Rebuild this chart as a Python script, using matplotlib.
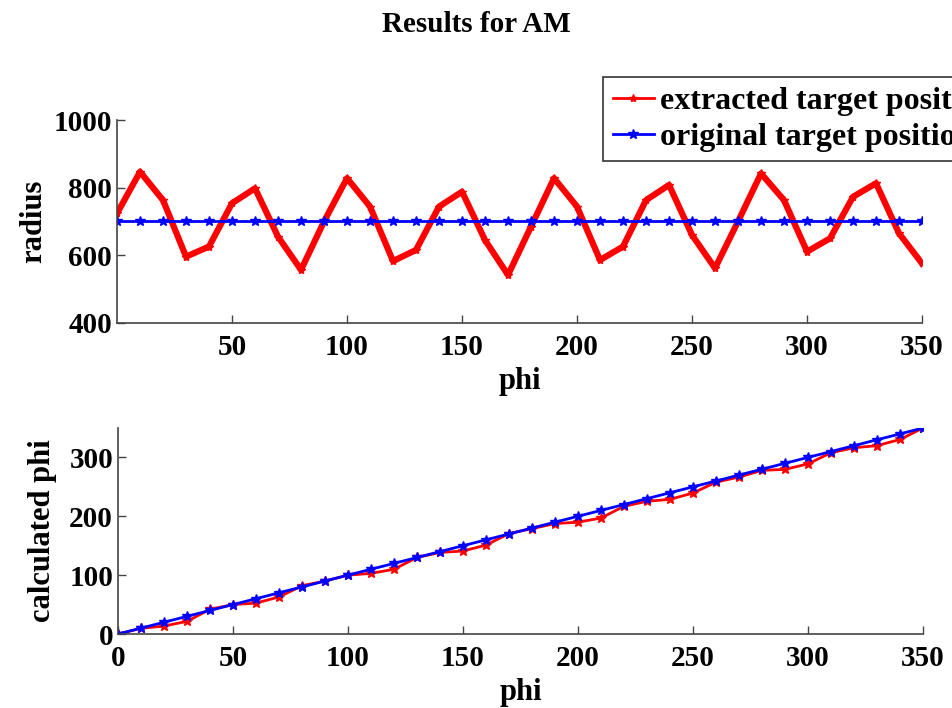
import matplotlib
matplotlib.use("Agg")
import matplotlib.pyplot as plt
import numpy as np

# angle samples (degrees)
phi = np.arange(0, 360, 10)

# extracted radius per angle
radius_extracted = [724, 847, 763, 596, 626, 754, 798, 655, 557, 700,
                    828, 744, 583, 616, 744, 788, 645, 542, 685, 828,
                    744, 586, 626, 763, 808, 660, 562, 700, 842, 763,
                    611, 650, 773, 813, 665, 576]
radius_original = [700] * len(phi)

# calculated phi per angle
phi_calculated = [0, 9.6, 13.5, 21.5, 42, 50, 52.5, 63, 82, 90,
                  100, 103, 110, 130, 138.5, 141, 151, 170.6, 179, 187.6,
                  190, 197, 217, 225.4, 228.8, 239.5, 258, 266.6, 278, 279.7,
                  289, 308, 316.4, 320, 330.5, 350]
phi_original = list(phi)

plt.rcParams["font.family"] = ["Liberation Serif", "DejaVu Serif"]
plt.rcParams["font.weight"] = "bold"
plt.rcParams["axes.labelweight"] = "bold"

fig = plt.figure(figsize=(9.53, 7.08), dpi=100)
fig.suptitle("Results for AM", y=0.985, fontsize=21, fontweight="bold")


def style_axes(ax):
    for side in ("top", "right"):
        ax.spines[side].set_visible(False)
    for side in ("left", "bottom"):
        ax.spines[side].set_color("#444444")
        ax.spines[side].set_linewidth(1.2)
    ax.tick_params(direction="in", length=6, width=1, labelsize=21,
                   color="#444444")
    ax.tick_params(axis="x", pad=8)
    for lbl in ax.get_xticklabels() + ax.get_yticklabels():
        lbl.set_fontweight("bold")


# top: radius vs phi
ax1 = fig.add_axes([0.1228, 0.5438, 0.8447, 0.2867])
ax1.plot(phi, radius_extracted, color="red", lw=4.5, marker="*", ms=6,
         label="extracted target position")
ax1.plot(phi, radius_original, color="blue", lw=2, marker="*", ms=7,
         label="original target position")
ax1.set_xlim(0, 350)
ax1.set_ylim(400, 1000)
ax1.set_xticks([50, 100, 150, 200, 250, 300, 350])
ax1.set_yticks([400, 600, 800, 1000])
ax1.set_xlabel("phi", fontsize=22, labelpad=4)
ax1.set_ylabel("radius", fontsize=22, labelpad=4)
style_axes(ax1)

leg = ax1.legend(loc="upper left", bbox_to_anchor=(603 / 953, 1 - 77 / 708),
                 bbox_transform=fig.transFigure, fontsize=23, frameon=True,
                 fancybox=False, edgecolor="black", handlelength=1.3,
                 handletextpad=0.2, borderaxespad=0, borderpad=0.3,
                 labelspacing=0.2)
leg.get_frame().set_linewidth(1.2)
leg.get_lines()[0].set_linewidth(2)
for t in leg.get_texts():
    t.set_fontweight("bold")

# bottom: calculated phi vs phi
ax2 = fig.add_axes([0.1238, 0.1045, 0.8447, 0.291])
ax2.plot(phi, phi_calculated, color="red", lw=2, marker="*", ms=7)
ax2.plot(phi, phi_original, color="blue", lw=2, marker="*", ms=7)
ax2.set_xlim(0, 350)
ax2.set_ylim(0, 350)
ax2.set_xticks([0, 50, 100, 150, 200, 250, 300, 350])
ax2.set_yticks([0, 100, 200, 300])
ax2.set_xlabel("phi", fontsize=22, labelpad=4)
ax2.set_ylabel("calculated phi", fontsize=22, labelpad=9)
style_axes(ax2)

fig.savefig("out.png", dpi=100)
